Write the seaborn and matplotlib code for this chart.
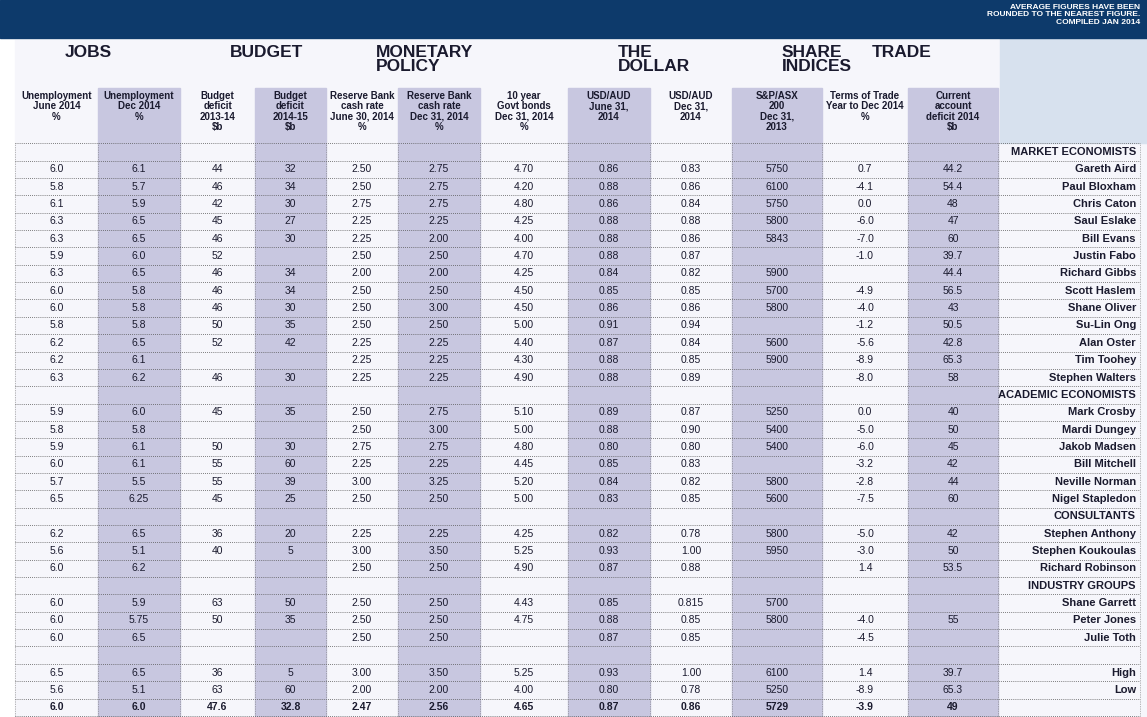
import numpy as np
import matplotlib
matplotlib.use("Agg")
import matplotlib.pyplot as plt
import seaborn as sns

sns.set_theme(style="white")
plt.rcParams['font.family'] = ['Liberation Sans Narrow', 'Liberation Sans', 'DejaVu Sans']

# ---- data ----
col_labels = ["Unemployment\nJune 2014\n%", "Unemployment\nDec 2014\n%", "Budget\ndeficit\n2013-14\n$b",
              "Budget\ndeficit\n2014-15\n$b", "Reserve Bank\ncash rate\nJune 30, 2014\n%",
              "Reserve Bank\ncash rate\nDec 31, 2014\n%", "10 year\nGovt bonds\nDec 31, 2014\n%",
              "USD/AUD\nJune 31,\n2014", "USD/AUD\nDec 31,\n2014", "S&P/ASX\n200\nDec 31,\n2013",
              "Terms of Trade\nYear to Dec 2014\n%", "Current\naccount\ndeficit 2014\n$b"]
categories = [("JOBS", 0), ("BUDGET", 2), ("MONETARY\nPOLICY", 4), ("THE\nDOLLAR", 7),
              ("SHARE\nINDICES", 9), ("TRADE", 10)]

names = ["MARKET ECONOMISTS", "Gareth Aird", "Paul Bloxham", "Chris Caton", "Saul Eslake", "Bill Evans",
         "Justin Fabo", "Richard Gibbs", "Scott Haslem", "Shane Oliver", "Su-Lin Ong", "Alan Oster",
         "Tim Toohey", "Stephen Walters", "ACADEMIC ECONOMISTS", "Mark Crosby", "Mardi Dungey",
         "Jakob Madsen", "Bill Mitchell", "Neville Norman", "Nigel Stapledon", "CONSULTANTS",
         "Stephen Anthony", "Stephen Koukoulas", "Richard Robinson", "INDUSTRY GROUPS", "Shane Garrett",
         "Peter Jones", "Julie Toth", "", "High", "Low", ""]

values = [
    None,
    ["6.0", "6.1", "44", "32", "2.50", "2.75", "4.70", "0.86", "0.83", "5750", "0.7", "44.2"],
    ["5.8", "5.7", "46", "34", "2.50", "2.75", "4.20", "0.88", "0.86", "6100", "-4.1", "54.4"],
    ["6.1", "5.9", "42", "30", "2.75", "2.75", "4.80", "0.86", "0.84", "5750", "0.0", "48"],
    ["6.3", "6.5", "45", "27", "2.25", "2.25", "4.25", "0.88", "0.88", "5800", "-6.0", "47"],
    ["6.3", "6.5", "46", "30", "2.25", "2.00", "4.00", "0.88", "0.86", "5843", "-7.0", "60"],
    ["5.9", "6.0", "52", "", "2.50", "2.50", "4.70", "0.88", "0.87", "", "-1.0", "39.7"],
    ["6.3", "6.5", "46", "34", "2.00", "2.00", "4.25", "0.84", "0.82", "5900", "", "44.4"],
    ["6.0", "5.8", "46", "34", "2.50", "2.50", "4.50", "0.85", "0.85", "5700", "-4.9", "56.5"],
    ["6.0", "5.8", "46", "30", "2.50", "3.00", "4.50", "0.86", "0.86", "5800", "-4.0", "43"],
    ["5.8", "5.8", "50", "35", "2.50", "2.50", "5.00", "0.91", "0.94", "", "-1.2", "50.5"],
    ["6.2", "6.5", "52", "42", "2.25", "2.25", "4.40", "0.87", "0.84", "5600", "-5.6", "42.8"],
    ["6.2", "6.1", "", "", "2.25", "2.25", "4.30", "0.88", "0.85", "5900", "-8.9", "65.3"],
    ["6.3", "6.2", "46", "30", "2.25", "2.25", "4.90", "0.88", "0.89", "", "-8.0", "58"],
    None,
    ["5.9", "6.0", "45", "35", "2.50", "2.75", "5.10", "0.89", "0.87", "5250", "0.0", "40"],
    ["5.8", "5.8", "", "", "2.50", "3.00", "5.00", "0.88", "0.90", "5400", "-5.0", "50"],
    ["5.9", "6.1", "50", "30", "2.75", "2.75", "4.80", "0.80", "0.80", "5400", "-6.0", "45"],
    ["6.0", "6.1", "55", "60", "2.25", "2.25", "4.45", "0.85", "0.83", "", "-3.2", "42"],
    ["5.7", "5.5", "55", "39", "3.00", "3.25", "5.20", "0.84", "0.82", "5800", "-2.8", "44"],
    ["6.5", "6.25", "45", "25", "2.50", "2.50", "5.00", "0.83", "0.85", "5600", "-7.5", "60"],
    None,
    ["6.2", "6.5", "36", "20", "2.25", "2.25", "4.25", "0.82", "0.78", "5800", "-5.0", "42"],
    ["5.6", "5.1", "40", "5", "3.00", "3.50", "5.25", "0.93", "1.00", "5950", "-3.0", "50"],
    ["6.0", "6.2", "", "", "2.50", "2.50", "4.90", "0.87", "0.88", "", "1.4", "53.5"],
    None,
    ["6.0", "5.9", "63", "50", "2.50", "2.50", "4.43", "0.85", "0.815", "5700", "", ""],
    ["6.0", "5.75", "50", "35", "2.50", "2.50", "4.75", "0.88", "0.85", "5800", "-4.0", "55"],
    ["6.0", "6.5", "", "", "2.50", "2.50", "", "0.87", "0.85", "", "-4.5", ""],
    None,
    ["6.5", "6.5", "36", "5", "3.00", "3.50", "5.25", "0.93", "1.00", "6100", "1.4", "39.7"],
    ["5.6", "5.1", "63", "60", "2.00", "2.00", "4.00", "0.80", "0.78", "5250", "-8.9", "65.3"],
    ["6.0", "6.0", "47.6", "32.8", "2.47", "2.56", "4.65", "0.87", "0.86", "5729", "-3.9", "49"],
]

# ---- layout ----
edges = [15, 98, 180, 255, 326, 398, 480, 568, 650, 732, 822, 908, 998, 1140]
row0, row_h = 152, 17.35
navy = "#0d3a6b"
shade = "#c8c7e0"
txt = "#1a1a2e"

fig = plt.figure(figsize=(11.47, 7.17), dpi=100)
ax = fig.add_axes([0, 0, 1, 1])
ax.set_xlim(0, 1147)
ax.set_ylim(717, 0)
ax.axis("off")

# background
ax.add_patch(plt.Rectangle((15, 40), 1132, 677, color="#f6f6fb", zorder=0))
ax.add_patch(plt.Rectangle((1000, 38), 147, 105, color="#d7e1ee", zorder=0))
ax.add_patch(plt.Rectangle((0, 0), 1147, 38, color=navy, zorder=1))
ax.text(1140, 4, "AVERAGE FIGURES HAVE BEEN\nROUNDED TO THE NEAREST FIGURE.\nCOMPILED JAN 2014",
        color="white", fontsize=6, fontweight="bold", ha="right", va="top", linespacing=1.1)

# shaded columns
for c in range(1, 12, 2):
    ax.add_patch(plt.Rectangle((edges[c], 88), edges[c + 1] - edges[c], 717 - 88, color=shade, zorder=0.5))

# category titles
for title, c in categories:
    ax.text(edges[c] + 50, 45, title, fontsize=12.5, fontweight="bold", color=txt, ha="left", va="top",
            linespacing=0.95)

# column headers
for c, lab in enumerate(col_labels):
    xc = (edges[c] + edges[c + 1]) / 2
    ax.text(xc, 91, lab, fontsize=7, fontweight="bold", color=txt, ha="center", va="top", linespacing=1.05)

# grid lines
n_rows = len(names)
for r in range(n_rows + 1):
    y = row0 - row_h / 2 + r * row_h
    ax.plot([15, 1140], [y, y], color="#555", lw=0.6, ls=(0, (1, 1.5)), zorder=2)
for x in edges:
    ax.plot([x, x], [row0 - row_h / 2, 717], color="#777", lw=0.5, ls=(0, (1, 1.5)), zorder=2)

# cells
for r, (nm, vals) in enumerate(zip(names, values)):
    y = row0 + r * row_h
    bold = r == n_rows - 1
    if vals is not None:
        for c, v in enumerate(vals):
            xc = (edges[c] + edges[c + 1]) / 2
            ax.text(xc, y, v, fontsize=7.5, color=txt, ha="center", va="center",
                    fontweight="bold" if bold else "normal")
    if nm:
        ax.text(1136, y, nm, fontsize=8, fontweight="bold", color=txt, ha="right", va="center")

fig.savefig("out.png", dpi=100)
